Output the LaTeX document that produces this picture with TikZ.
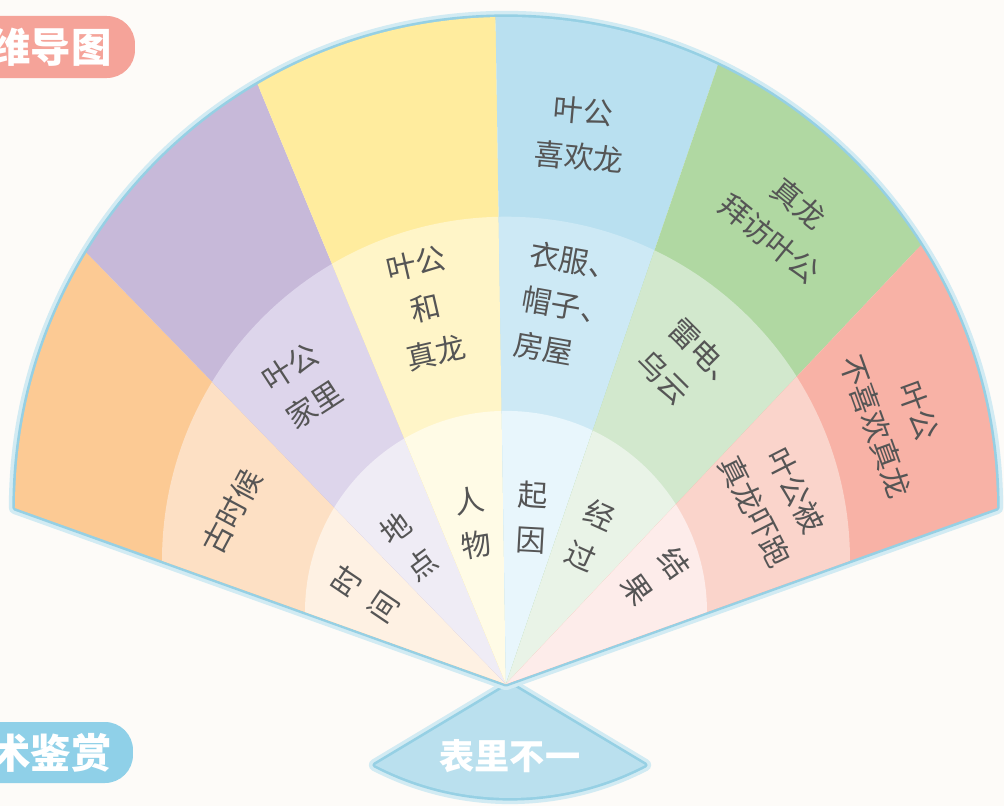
\documentclass[tikz,border=0pt]{standalone}
\usepackage{fontspec}
\setmainfont{Noto Sans CJK SC}
\usetikzlibrary{positioning}

\definecolor{bgcol}{RGB}{253,251,248}
\definecolor{glowblue}{RGB}{150,208,228}
\definecolor{glowpale}{RGB}{210,235,243}
\definecolor{orA}{RGB}{252,202,148}
\definecolor{orB}{RGB}{253,224,196}
\definecolor{orC}{RGB}{254,241,227}
\definecolor{puA}{RGB}{199,185,217}
\definecolor{puB}{RGB}{221,213,235}
\definecolor{puC}{RGB}{239,236,245}
\definecolor{yeA}{RGB}{255,236,158}
\definecolor{yeB}{RGB}{255,245,200}
\definecolor{yeC}{RGB}{255,251,230}
\definecolor{blA}{RGB}{185,224,240}
\definecolor{blB}{RGB}{205,233,245}
\definecolor{blC}{RGB}{232,246,252}
\definecolor{grA}{RGB}{176,216,162}
\definecolor{grB}{RGB}{210,232,205}
\definecolor{grC}{RGB}{233,243,231}
\definecolor{reA}{RGB}{248,178,166}
\definecolor{reB}{RGB}{250,212,203}
\definecolor{reC}{RGB}{253,236,234}
\definecolor{txtgray}{RGB}{85,85,85}
\definecolor{pinkpill}{RGB}{245,163,153}
\definecolor{bluepill}{RGB}{143,208,232}
\definecolor{smallfan}{RGB}{186,224,238}

\tikzset{
  lbl/.style={font=\fontsize{17}{26}\selectfont, text=txtgray, align=center, inner sep=0pt},
  vcol/.style={lbl, font=\fontsize{17}{25.5}\selectfont},
  pilltext/.style={font=\fontsize{23}{23}\selectfont\bfseries, text=white, inner sep=0pt},
  glowline/.style={line width=7pt, glowpale, line join=round},
  edgeline/.style={line width=3pt, glowblue, line join=round}
}

\begin{document}
\begin{tikzpicture}[x=0.02cm,y=0.02cm]
    \useasboundingbox (-506,-122) rectangle (498,684);
    \fill[bgcol] (-506,-122) rectangle (498,684);

    \fill[pinkpill, rounded corners=16pt] (-540,606) rectangle (-371,668);
    \node[pilltext, anchor=east] (siwei) at (-394,637) {维导图};
    \fill[bluepill, rounded corners=16pt] (-540,-99) rectangle (-373,-38);
    \node[pilltext, anchor=east] (jianshang) at (-394,-69) {术鉴赏};

    \draw[glowline] (4,0) -- (-131,-81) arc[start angle=242.56, end angle=297.44, radius=293] -- cycle;
    \draw[edgeline] (4,0) -- (-131,-81) arc[start angle=242.56, end angle=297.44, radius=293] -- cycle;
    \fill[smallfan] (4,0) -- (-131,-81) arc[start angle=242.56, end angle=297.44, radius=293] -- cycle;
    \node[pilltext, font=\fontsize{20}{20}\selectfont\bfseries] (biaoli) at (4,-72) {表里不一};

    \draw[glowline] (0,0) -- (-491,176) arc[start angle=180, end angle=0, radius=491] -- cycle;
    \draw[edgeline] (0,0) -- (-491,176) arc[start angle=180, end angle=0, radius=491] -- cycle;
    \foreach \a/\b/\ca/\cb/\cc in {160.28/134.2/orA/orB/orC, 134.2/112.5/puA/puB/puC,
        112.5/90.9/yeA/yeB/yeC, 90.9/71.1/blA/blB/blC, 71.1/46.6/grA/grB/grC, 46.6/19.72/reA/reB/reC}{
      \begin{scope}
        \clip (0,0) -- (\a:800) -- (\b:800) -- cycle;
        \fill[\ca] (0,176) circle[radius=491];
        \fill[\cb] (0,123.3) circle[radius=344];
        \fill[\cc] (0,72.1) circle[radius=201];
      \end{scope}
    }

    \node[lbl, rotate=-5] (xihuan) at (75,549.7) {叶公\\喜欢龙};
    \node[lbl, rotate=-39] (baifang) at (278,463) {真龙\\拜访叶公};
    \node[lbl, rotate=-70] (buxi) at (391,265) {叶公\\不喜欢真龙};

    \node[lbl, rotate=62] (gushi) at (-274,172.5) {古时候};
    \node[lbl, rotate=33] (jiali) at (-203.5,298) {叶公\\家里};
    \node[lbl, rotate=13] (hezl) at (-80,375.5) {叶公\\和\\真龙};
    \node[lbl, rotate=-10, align=left] (yifu) at (60.6,378) {衣服、\\帽子、\\房屋};
    \node[lbl, rotate=-45, align=left] (leidian) at (184,312.5) {雷电、\\乌云};
    \node[lbl, rotate=-63] (xiapao) at (269.5,183) {叶公被\\真龙吓跑};

    \node[vcol, rotate=56] (shijian) at (-141,89.5) {时\\间};
    \node[vcol, rotate=36.6] (didian) at (-97.3,137.5) {地\\点};
    \node[vcol, rotate=9.7] (renwu) at (-33.2,160.8) {人\\物};
    \node[vcol, rotate=-3.2] (qiyin) at (26,166.5) {起\\因};
    \node[vcol, rotate=-24.3] (jingguo) at (84.3,148.7) {经\\过};
    \node[vcol, rotate=-54.7] (jieguo) at (150,108) {结\\果};
\end{tikzpicture}
\end{document}
